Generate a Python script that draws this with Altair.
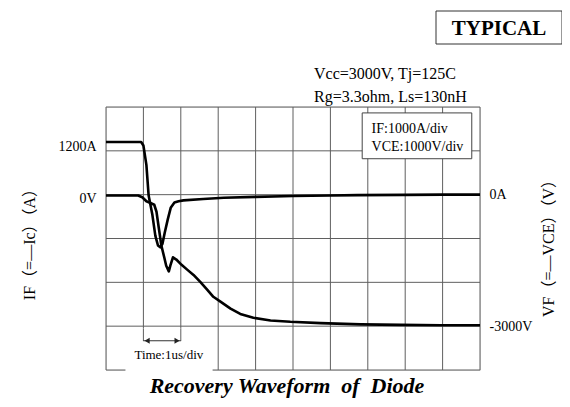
import altair as alt
import pandas as pd

# ---- data (time in us, current in A, voltage in V) ----
cur_t = [0, 0.94, 1.00, 1.08, 1.14, 1.24, 1.32, 1.39, 1.45, 1.51, 1.57, 1.65, 1.73, 1.83,
         1.94, 2.07, 2.6, 3.15, 4.0, 5.0, 6.0, 6.72, 8.0, 9.0, 10.0]
cur_a = [1200, 1200, 1120, 680, -20, -460, -940, -1160, -1200, -1120, -870, -570, -300, -180,
         -150, -130, -100, -70, -50, -30, -20, -10, -5, 0, 0]

volt_t = [0, 0.86, 0.97, 1.08, 1.19, 1.29, 1.35, 1.41, 1.48, 1.56, 1.61, 1.68, 1.72, 1.79,
          1.88, 2.02, 2.17, 2.34, 2.52, 2.71, 2.87, 3.06, 3.33, 3.59, 3.94, 4.40, 4.93,
          5.74, 6.81, 7.88, 8.95, 10.0]
volt_v = [-20, -20, -60, -150, -190, -230, -390, -750, -1160, -1440, -1620, -1750, -1620, -1430,
          -1480, -1600, -1710, -1830, -1990, -2170, -2330, -2440, -2600, -2720, -2810, -2870, -2900,
          -2930, -2960, -2970, -2980, -2980]

grid_t = [0, 1, 2, 3, 4, 5, 6, 7, 8, 9, 10]
grid_y = [2000, 1000, 0, -1000, -2000, -3000, -4000]

left_ticks = [1200, 0]
left_labels = ["1200A", "0V"]
right_ticks = [0, -3000]
right_labels = ["0A", "-3000V"]

left_title = "IF（=—Ic）（A）"
right_title = "VF（=—VCE）（V）"
bottom_title = "Recovery Waveform\u00a0 of\u00a0 Diode"
cond_lines = ["Vcc=3000V, Tj=125C", "Rg=3.3ohm, Ls=130nH"]
scale_lines = ["IF:1000A/div", "VCE:1000V/div"]
time_label = "Time:1us/div"
badge = "TYPICAL"

# ---- styling ----
SERIF = "Liberation Serif, Noto Sans CJK JP"
GRID = "#5f5f5f"
W, H = 374, 263

XS = alt.Scale(domain=[0, 10], nice=False, zero=False)
YS = alt.Scale(domain=[-4000, 2000], nice=False, zero=False)


def label_expr(vals, labs):
    expr = "''"
    for v, l in reversed(list(zip(vals, labs))):
        expr = f"datum.value === {v} ? '{l}' : ({expr})"
    return expr


one = pd.DataFrame({"k": [0]})

vgrid = alt.Chart(pd.DataFrame({"t": grid_t})).mark_rule(color=GRID, strokeWidth=1).encode(
    x=alt.X("t:Q", scale=XS, axis=None), y=alt.value(0), y2=alt.value(H))
hgrid = alt.Chart(pd.DataFrame({"v": grid_y})).mark_rule(color=GRID, strokeWidth=1).encode(
    y=alt.Y("v:Q", scale=YS, axis=None), x=alt.value(0), x2=alt.value(W))

# white box under the time scale annotation
tbox = alt.Chart(pd.DataFrame({"x1": [0.52], "x2": [2.85], "y1": [-3050], "y2": [-4060]})).mark_rect(
    fill="white").encode(
    x=alt.X("x1:Q", scale=XS, axis=None), x2="x2:Q",
    y=alt.Y("y1:Q", scale=YS, axis=None), y2="y2:Q")
dims = alt.Chart(pd.DataFrame({"t": [1, 2], "y1": [-3050, -3050], "y2": [-3340, -3340]})).mark_rule(
    color=GRID, strokeWidth=1).encode(
    x=alt.X("t:Q", scale=XS, axis=None), y=alt.Y("y1:Q", scale=YS, axis=None), y2="y2:Q")
arrow = alt.Chart(pd.DataFrame({"x1": [1], "x2": [2], "y": [-3333]})).mark_rule(
    color="#333", strokeWidth=1.2).encode(
    x=alt.X("x1:Q", scale=XS, axis=None), x2="x2:Q", y=alt.Y("y:Q", scale=YS, axis=None))
head_l = alt.Chart(pd.DataFrame({"x": [1.1], "y": [-3333]})).mark_point(
    shape="triangle-left", filled=True, color="#222", size=35, opacity=1).encode(
    x=alt.X("x:Q", scale=XS, axis=None), y=alt.Y("y:Q", scale=YS, axis=None))
head_r = alt.Chart(pd.DataFrame({"x": [1.9], "y": [-3333]})).mark_point(
    shape="triangle-right", filled=True, color="#222", size=35, opacity=1).encode(
    x=alt.X("x:Q", scale=XS, axis=None), y=alt.Y("y:Q", scale=YS, axis=None))
ttext = alt.Chart(pd.DataFrame({"x": [1.68], "y": [-3650], "s": [time_label]})).mark_text(
    font=SERIF, fontSize=13, color="black", baseline="middle", align="center").encode(
    x=alt.X("x:Q", scale=XS, axis=None), y=alt.Y("y:Q", scale=YS, axis=None), text="s:N")

# scale legend box
lbox = alt.Chart(pd.DataFrame({"x1": [6.85], "x2": [9.78], "y1": [1865], "y2": [820]})).mark_rect(
    fill="white", stroke="#444", strokeWidth=1).encode(
    x=alt.X("x1:Q", scale=XS, axis=None), x2="x2:Q",
    y=alt.Y("y1:Q", scale=YS, axis=None), y2="y2:Q")
ltext = alt.Chart(pd.DataFrame({"x": [7.1, 7.1], "y": [1500, 1080], "s": scale_lines})).mark_text(
    font=SERIF, fontSize=14, color="black", baseline="middle", align="left").encode(
    x=alt.X("x:Q", scale=XS, axis=None), y=alt.Y("y:Q", scale=YS, axis=None), text="s:N")

cur = alt.Chart(pd.DataFrame({"t": cur_t, "a": cur_a})).mark_line(
    color="black", strokeWidth=2.6, strokeJoin="round").encode(
    x=alt.X("t:Q", scale=XS, axis=None),
    y=alt.Y("a:Q", scale=YS, axis=alt.Axis(
        orient="left", values=left_ticks, labelExpr=label_expr(left_ticks, left_labels),
        domain=False, ticks=False, grid=False, labelPadding=10, labelFont=SERIF,
        labelFontSize=14, labelColor="black", labelOffset=4,
        title=left_title, titleFont=SERIF, titleFontSize=16, titleFontWeight="normal",
        titleColor="black", titleAngle=270, titleX=-77, titleY=133, titleAlign="center",
        titleBaseline="middle")),
    order=alt.Order("t:Q"))

volt = alt.Chart(pd.DataFrame({"t": volt_t, "v": volt_v})).mark_line(
    color="black", strokeWidth=2.6, strokeJoin="round").encode(
    x=alt.X("t:Q", scale=XS, axis=None),
    y=alt.Y("v:Q", scale=YS, axis=alt.Axis(
        orient="right", values=right_ticks, labelExpr=label_expr(right_ticks, right_labels),
        domain=False, ticks=False, grid=False, labelPadding=9, labelFont=SERIF,
        labelFontSize=14, labelColor="black",
        title=right_title, titleFont=SERIF, titleFontSize=16, titleFontWeight="normal",
        titleColor="black", titleAngle=270, titleX=68, titleY=137, titleAlign="center",
        titleBaseline="middle")),
    order=alt.Order("t:Q"))

cond = alt.Chart(one).mark_text(
    font=SERIF, fontSize=16, color="black", align="left", baseline="alphabetic",
    lineHeight=23).encode(x=alt.value(208), y=alt.value(-28), text=alt.value(cond_lines))

bbox = alt.Chart(one).mark_rect(fill="white", stroke="#333", strokeWidth=1).encode(
    x=alt.value(330), x2=alt.value(456), y=alt.value(-96), y2=alt.value(-63))
btext = alt.Chart(one).mark_text(
    font=SERIF, fontSize=21, fontWeight="bold", color="black", align="center",
    baseline="alphabetic").encode(x=alt.value(393), y=alt.value(-72), text=alt.value(badge))

btitle = alt.Chart(one).mark_text(
    font=SERIF, fontSize=22, fontWeight="bold", fontStyle="italic", color="black",
    align="center", baseline="alphabetic").encode(
    x=alt.value(181), y=alt.value(H + 23), text=alt.value(bottom_title))

chart = alt.layer(
    hgrid, vgrid, tbox, dims, arrow, head_l, head_r, ttext, lbox, ltext, cur, volt,
    cond, bbox, btext, btitle
).resolve_axis(y="independent").properties(
    width=W, height=H,
    autosize=alt.AutoSizeParams(type="none"),
    padding={"left": 98, "top": 99, "right": 82, "bottom": 30},
).configure_view(stroke=None).configure(background="white")

chart.save("out.html", embed_options={"renderer": "svg", "actions": False})
